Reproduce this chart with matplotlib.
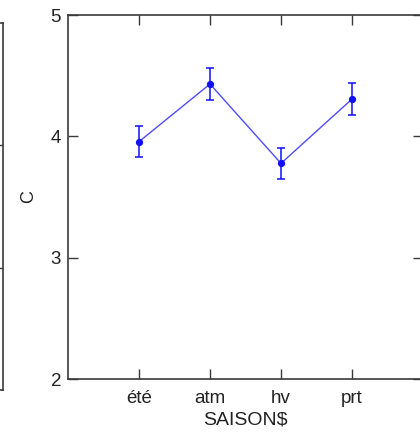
import matplotlib
matplotlib.use("Agg")
import matplotlib.pyplot as plt

categories = ["été", "atm", "hv", "prt"]
means = [3.956, 4.431, 3.777, 4.307]
errors = [0.128, 0.129, 0.127, 0.130]
yticks = [2, 3, 4, 5]

plt.rcParams['font.family'] = ['Liberation Sans', 'DejaVu Sans']

W, H = 420, 441
fig = plt.figure(figsize=(W/100, H/100), dpi=100)

spine_c = "#3a3a3a"

# partial neighbouring panel at far left
axl = fig.add_axes([(-200)/W, 1-390/H, 203/W, (390-23)/H])
axl.set_ylim(2, 5)
axl.set_xlim(0, 1)
axl.set_yticks([3, 4])
axl.yaxis.tick_right()
axl.tick_params(axis='y', direction='in', length=7, width=1.0, color=spine_c, labelright=False, labelleft=False)
axl.set_xticks([])
for s in axl.spines.values():
    s.set_color(spine_c)
    s.set_linewidth(1.2)

ax = fig.add_axes([68/W, 1-379/H, (423-68)/W, (379-15)/H])
x = list(range(1, len(categories)+1))
ax.plot(x, means, color=(0.3, 0.3, 1.0), lw=1.0, zorder=2)
ax.errorbar(x, means, yerr=errors, fmt='o', color='#1010ff', ms=4.2, capsize=3.0,
            elinewidth=1.1, capthick=1.1, zorder=3)
ax.set_xlim(0, 5)
ax.set_ylim(2, 5)
ax.set_xticks(x)
ax.set_xticklabels(categories)
ax.set_yticks(yticks)
ax.set_yticklabels([str(v) for v in yticks])
ax.tick_params(direction='in', length=7, width=1.0, color=spine_c,
               top=True, right=True, labelcolor='#222222')
ax.tick_params(axis='x', labelsize=13.5, pad=8)
ax.tick_params(axis='y', labelsize=13.5, pad=5)
for s in ax.spines.values():
    s.set_color(spine_c)
    s.set_linewidth(1.2)
ax.set_xlabel("SAISON$", fontsize=14, labelpad=3, color='#222222')
ax.set_ylabel("C", fontsize=13, labelpad=10, color='#222222')

fig.savefig("out.png", dpi=100)
